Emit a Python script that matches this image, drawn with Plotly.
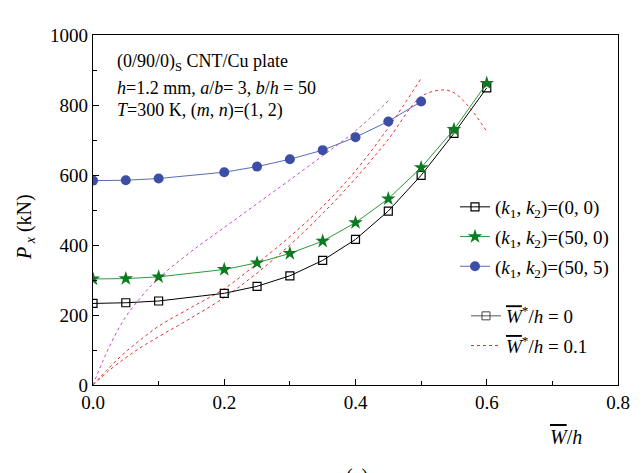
import plotly.graph_objects as go

# ---- data ----
x_main = [0.0, 0.05, 0.1, 0.2, 0.25, 0.3, 0.35, 0.4, 0.45, 0.5, 0.55, 0.6]
p_k00 = [233, 235, 240, 262, 282, 312, 356, 416, 497, 599, 719, 849]
p_k500 = [303, 304, 309, 330, 349, 376, 411, 464, 532, 621, 730, 862]
x_k505 = [0.0, 0.05, 0.1, 0.2, 0.25, 0.3, 0.35, 0.4, 0.45, 0.5]
p_k505 = [584, 585, 590, 608, 624, 645, 671, 708, 753, 810]

# imperfect plate (W*/h = 0.1)
x_imp00 = [0.0, 0.025, 0.05, 0.075, 0.1, 0.15, 0.2, 0.25, 0.3, 0.35, 0.4, 0.45, 0.5, 0.533, 0.55, 0.575, 0.6]
p_imp00 = [0, 42, 78, 110, 138, 192, 250, 320, 400, 490, 590, 702, 824, 843, 835, 790, 724]
x_imp500 = [0.0, 0.025, 0.05, 0.075, 0.1, 0.15, 0.2, 0.25, 0.3, 0.35, 0.4, 0.45, 0.5]
p_imp500 = [0, 50, 95, 133, 168, 222, 275, 347, 424, 510, 612, 735, 876]
x_imp505 = [0.0, 0.025, 0.05, 0.075, 0.1, 0.15, 0.2, 0.25, 0.3, 0.35, 0.4, 0.45]
p_imp505 = [0, 110, 195, 255, 305, 382, 450, 518, 586, 655, 726, 812]

legend_k = ["(<i>k</i><sub>1</sub>, <i>k</i><sub>2</sub>)=(0, 0)",
            "(<i>k</i><sub>1</sub>, <i>k</i><sub>2</sub>)=(50, 0)",
            "(<i>k</i><sub>1</sub>, <i>k</i><sub>2</sub>)=(50, 5)"]
WBAR = '<span style="text-decoration:overline"><i>W</i></span>'
legend_w = [WBAR + "<sup>*</sup>/<i>h</i> = 0", WBAR + "<sup>*</sup>/<i>h</i> = 0.1"]

FONT = "Liberation Serif"

fig = go.Figure()

# imperfect curves (dotted)
fig.add_trace(go.Scatter(x=x_imp505, y=p_imp505, mode="lines",
                         line=dict(color="#cc44cc", width=1, dash="dot", shape="spline"),
                         showlegend=False))
fig.add_trace(go.Scatter(x=x_imp00, y=p_imp00, mode="lines",
                         line=dict(color="#e8302a", width=1, dash="dot", shape="spline"),
                         showlegend=False))
fig.add_trace(go.Scatter(x=x_imp500, y=p_imp500, mode="lines",
                         line=dict(color="#e8302a", width=1, dash="dot", shape="spline"),
                         name=legend_w[1], legend="legend2", showlegend=True,
                         legendrank=2, legendgroup="w1"))

# perfect curves
fig.add_trace(go.Scatter(x=x_main, y=p_k00, mode="lines+markers", name=legend_k[0],
                         line=dict(color="black", width=1), legendgroup="k1",
                         marker=dict(symbol="square-open", size=8, color="black",
                                     line=dict(width=1.2))))
fig.add_trace(go.Scatter(x=x_main, y=p_k500, mode="lines+markers", name=legend_k[1],
                         line=dict(color="#2a9a3a", width=1), legendgroup="k2",
                         marker=dict(symbol="star", size=11, color="#0e7a20",
                                     line=dict(width=0))))
fig.add_trace(go.Scatter(x=x_k505, y=p_k505, mode="lines+markers", name=legend_k[2],
                         line=dict(color="#5a6ab8", width=1), legendgroup="k3",
                         marker=dict(symbol="circle", size=10, color="#3c4ea6",
                                     line=dict(width=0))))

# legend-only entry for perfect plate
fig.add_trace(go.Scatter(x=[None], y=[None], mode="lines+markers", name=legend_w[0],
                         line=dict(color="#555555", width=1), legendgroup="w0",
                         marker=dict(symbol="square-open", size=8, color="#444444"),
                         legend="legend2", legendrank=1))

X0, X1, Y0, Y1 = 93, 618, 35, 385
W = 643
H = 473

def px(xp):
    return (xp - X0) / (X1 - X0)

def py(yp):
    return (Y1 - yp) / (Y1 - Y0)

annots = [
    dict(text="(0/90/0)<sub>S</sub> CNT/Cu plate", x=px(115), y=py(63)),
    dict(text="<i>h</i>=1.2 mm, <i>a</i>/<i>b</i>= 3, <i>b</i>/<i>h</i> = 50", x=px(115), y=py(88)),
    dict(text="<i>T</i>=300 K, (<i>m</i>, <i>n</i>)=(1, 2)", x=px(115), y=py(110)),
]
ann_list = []
for a in annots:
    ann_list.append(dict(text=a["text"], x=a["x"], y=a["y"], xref="paper", yref="paper",
                         xanchor="left", yanchor="middle", showarrow=False,
                         font=dict(family=FONT, size=18, color="black")))
ann_list.append(dict(text="<i>P</i><sub> <i>x</i></sub> (kN)", x=px(25), y=py(227),
                     xref="paper", yref="paper", textangle=-90, showarrow=False,
                     xanchor="center", yanchor="middle",
                     font=dict(family=FONT, size=20, color="black")))
ann_list.append(dict(text=WBAR + "/<i>h</i>", x=px(566), y=py(437),
                     xref="paper", yref="paper", showarrow=False,
                     xanchor="center", yanchor="middle",
                     font=dict(family=FONT, size=20, color="black")))
ann_list.append(dict(text="(a)", x=px(357), y=py(463),
                     xref="paper", yref="paper", showarrow=False,
                     xanchor="center", yanchor="top",
                     font=dict(family=FONT, size=20, color="black")))

axis_common = dict(showgrid=False, zeroline=False, showline=True, linecolor="black",
                   linewidth=1.3, mirror=True, ticks="inside", ticklen=6,
                   tickcolor="black", tickwidth=1.2,
                   tickfont=dict(family=FONT, size=19, color="black"))

fig.update_layout(
    width=W, height=H,
    margin=dict(l=X0, r=W - X1, t=Y0, b=H - Y1),
    paper_bgcolor="white", plot_bgcolor="white",
    xaxis=dict(range=[0, 0.8], dtick=0.2, tickformat=".1f",
               minor=dict(dtick=0.1, ticks="inside", ticklen=4, tickcolor="black"),
               **axis_common),
    yaxis=dict(range=[0, 1000], dtick=200,
               minor=dict(dtick=100, ticks="inside", ticklen=4, tickcolor="black"),
               **axis_common),
    legend=dict(x=px(455), y=py(188), xanchor="left", yanchor="top",
                bgcolor="rgba(0,0,0,0)", font=dict(family=FONT, size=19, color="black"),
                tracegroupgap=2, itemwidth=30),
    legend2=dict(x=px(466), y=py(297), xanchor="left", yanchor="top",
                 bgcolor="rgba(0,0,0,0)", font=dict(family=FONT, size=19, color="black"),
                 tracegroupgap=2, itemwidth=30),
    annotations=ann_list,
    showlegend=True,
)

fig.write_html("out.html")
